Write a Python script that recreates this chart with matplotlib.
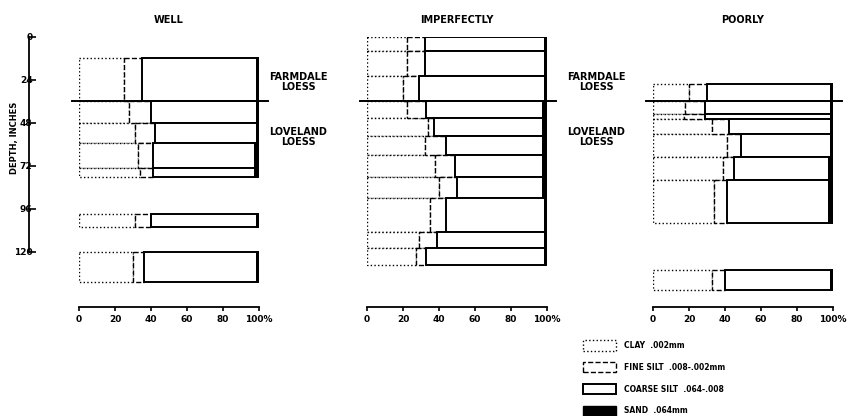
import matplotlib
matplotlib.use("Agg")
import matplotlib.pyplot as plt
from matplotlib.patches import Patch

plt.rcParams['font.family'] = ['DejaVu Sans']
plt.rcParams['font.weight'] = 'bold'

# depth intervals (inches) and particle size percentages per drainage class
well_top = [12, 36, 48, 59, 73, 99, 120]
well_bot = [36, 48, 59, 73, 78, 106, 137]
well_clay = [25, 28, 31, 33, 34, 31, 30]
well_fine = [10, 12, 11, 8, 7, 9, 6]
well_sand = [1, 1, 1, 2, 2, 1, 1]

imp_top = [0, 8, 22, 36, 45, 55, 66, 78, 90, 109, 118]
imp_bot = [8, 22, 36, 45, 55, 66, 78, 90, 109, 118, 127]
imp_clay = [22, 22, 20, 22, 34, 32, 38, 40, 35, 29, 27]
imp_fine = [10, 10, 9, 11, 3, 12, 11, 10, 9, 10, 6]
imp_sand = [1, 1, 1, 2, 2, 2, 2, 2, 1, 1, 1]

poor_top = [26, 36, 43, 46, 54, 67, 80, 130]
poor_bot = [36, 43, 46, 54, 67, 80, 104, 141]
poor_clay = [20, 18, 17, 33, 41, 39, 34, 33]
poor_fine = [10, 11, 12, 9, 8, 6, 7, 7]
poor_sand = [1, 1, 1, 1, 1, 2, 2, 1]

titles = ['WELL', 'IMPERFECTLY', 'POORLY']
depth_ticks = [0, 24, 48, 72, 96, 120]
pct_ticks = [0, 20, 40, 60, 80, 100]
pct_labels = ['0', '20', '40', '60', '80', '100%']
loess_boundary = 36
legend_labels = ['CLAY  .002mm', 'FINE SILT  .008-.002mm',
                 'COARSE SILT  .064-.008', 'SAND  .064mm']

panels = [
    (well_top, well_bot, well_clay, well_fine, well_sand),
    (imp_top, imp_bot, imp_clay, imp_fine, imp_sand),
    (poor_top, poor_bot, poor_clay, poor_fine, poor_sand),
]

W, H = 853, 416
fig = plt.figure(figsize=(W / 100, H / 100), dpi=100)
lefts = [79, 367, 653]
ax_top, ax_bot = 37, 307

for i, (top, bot, clay, fine, sand) in enumerate(panels):
    ax = fig.add_axes([lefts[i] / W, 1 - ax_bot / H, 180 / W, (ax_bot - ax_top) / H])
    ax.set_xlim(0, 100)
    ax.set_ylim(150.7, 0)
    centers = [(t + b) / 2 for t, b in zip(top, bot)]
    heights = [b - t for t, b in zip(top, bot)]
    fine_left = clay
    coarse_left = [c + f for c, f in zip(clay, fine)]
    coarse = [100 - c - f - s for c, f, s in zip(clay, fine, sand)]
    sand_left = [100 - s for s in sand]

    ax.barh(centers, clay, height=heights, left=0, facecolor='white',
            edgecolor='black', linestyle=':', linewidth=1.0)
    ax.barh(centers, fine, height=heights, left=fine_left, facecolor='white',
            edgecolor='black', linestyle='--', linewidth=1.0)
    ax.barh(centers, coarse, height=heights, left=coarse_left, facecolor='white',
            edgecolor='black', linewidth=1.4)
    ax.barh(centers, sand, height=heights, left=sand_left, facecolor='black',
            edgecolor='black', linewidth=1.4)

    ax.plot([-4, 105], [loess_boundary, loess_boundary], color='black',
            linewidth=1.4, clip_on=False)

    for side in ['top', 'right']:
        ax.spines[side].set_visible(False)
    ax.spines['bottom'].set_bounds(0, 100)
    ax.spines['bottom'].set_linewidth(1.3)
    ax.set_xticks(pct_ticks)
    ax.set_xticklabels(pct_labels)
    ax.tick_params(axis='x', direction='out', length=3, width=1.2,
                   labelsize=6.5, pad=3)

    if i == 0:
        ax.spines['left'].set_position(('outward', 36))
        ax.spines['left'].set_bounds(0, 120)
        ax.spines['left'].set_linewidth(1.3)
        ax.set_yticks(depth_ticks)
        ax.tick_params(axis='y', direction='in', length=5, width=1.2,
                       labelsize=6.5, pad=-2.5)
    else:
        ax.spines['left'].set_visible(False)
        ax.set_yticks([])

    ax.set_title(titles[i], fontsize=7, fontweight='bold', pad=10)

# loess labels between panels
for cx in [298, 596]:
    fig.text(cx / W, 1 - 82 / H, 'FARMDALE\nLOESS', ha='center', va='center',
             fontsize=7, fontweight='bold', linespacing=1.1)
    fig.text(cx / W, 1 - 137 / H, 'LOVELAND\nLOESS', ha='center', va='center',
             fontsize=7, fontweight='bold', linespacing=1.1)

fig.text(15 / W, 1 - 138 / H, 'DEPTH, INCHES', rotation=90, ha='center',
         va='center', fontsize=6, fontweight='bold')

handles = [
    Patch(facecolor='white', edgecolor='black', linestyle=':', linewidth=1.0),
    Patch(facecolor='white', edgecolor='black', linestyle='--', linewidth=1.0),
    Patch(facecolor='white', edgecolor='black', linewidth=1.4),
    Patch(facecolor='black', edgecolor='black'),
]
fig.legend(handles, legend_labels, loc='upper left',
           bbox_to_anchor=(578 / W, 1 - 335 / H), frameon=False,
           fontsize=5.5, handlelength=4.3, handleheight=1.7,
           labelspacing=1.5, handletextpad=1.0, borderpad=0.2)

fig.savefig('out.png', dpi=100)
